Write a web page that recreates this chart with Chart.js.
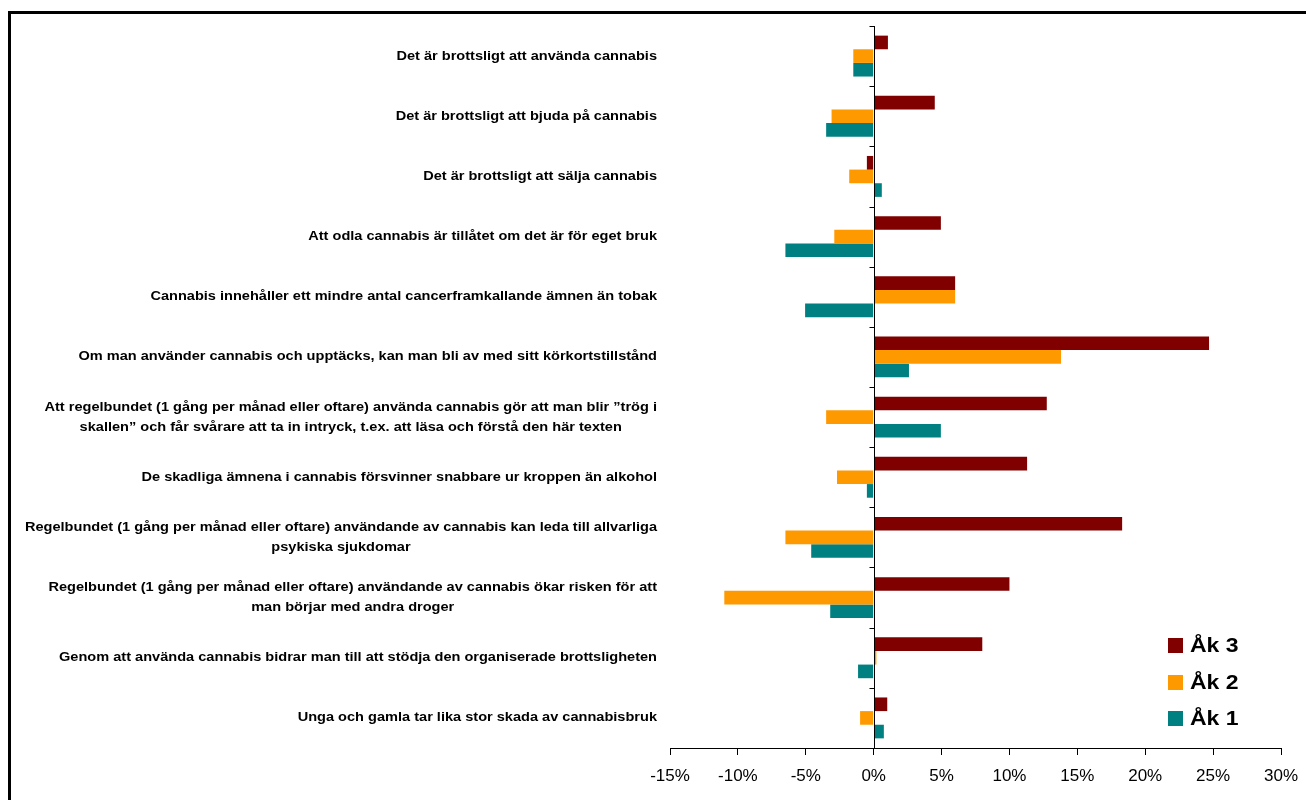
<!DOCTYPE html>
<html>
<head>
<meta charset="utf-8">
<script src="https://cdn.jsdelivr.net/npm/chart.js@4.4.1/dist/chart.umd.min.js"></script>
<style>
  html, body { margin: 0; padding: 0; background: #fff; overflow: hidden; }
  body { width: 1306px; height: 800px; position: relative; font-family: "Liberation Sans", Arial, sans-serif; }
  #frame { position: absolute; left: 8px; top: 11px; width: 1400px; height: 900px; border: 3px solid #000; box-sizing: border-box; }
  #wrap { position: absolute; left: 0; top: 0; width: 1306px; height: 800px; }
  #legend { position: absolute; left: 1168px; top: 627px; }
  .item { height: 36.7px; display: flex; align-items: center; font-weight: bold; font-size: 20px; color: #000; }
  .box { width: 15px; height: 15px; margin-right: 7px; }
  .txt { display: inline-block; transform: scaleX(1.15); transform-origin: left center; }
</style>
</head>
<body>
<div id="frame"></div>
<div id="wrap"><canvas id="chart" width="1306" height="800"></canvas></div>
<div id="legend"></div>
<script>
// categories, top to bottom
const categories = [
  ['Det är brottsligt att använda cannabis'],
  ['Det är brottsligt att bjuda på cannabis'],
  ['Det är brottsligt att sälja cannabis'],
  ['Att odla cannabis är tillåtet om det är för eget bruk'],
  ['Cannabis innehåller ett mindre antal cancerframkallande ämnen än tobak'],
  ['Om man använder cannabis och upptäcks, kan man bli av med sitt körkortstillstånd'],
  ['Att regelbundet (1 gång per månad eller oftare) använda cannabis gör att man blir ”trög i', 'skallen” och får svårare att ta in intryck, t.ex. att läsa och förstå den här texten'],
  ['De skadliga ämnena i cannabis försvinner snabbare ur kroppen än alkohol'],
  ['Regelbundet (1 gång per månad eller oftare) användande av cannabis kan leda till allvarliga', 'psykiska sjukdomar'],
  ['Regelbundet (1 gång per månad eller oftare) användande av cannabis ökar risken för att', 'man börjar med andra droger'],
  ['Genom att använda cannabis bidrar man till att stödja den organiserade brottsligheten'],
  ['Unga och gamla tar lika stor skada av cannabisbruk']
];

// change in percent
const ak3 = [1.05, 4.5, -0.5, 4.95, 6.0, 24.7, 12.75, 11.3, 18.3, 10.0, 8.0, 1.0];
const ak2 = [-1.5, -3.1, -1.8, -2.9, 6.0, 13.8, -3.5, -2.7, -6.5, -11.0, 0.2, -1.0];
const ak1 = [-1.5, -3.5, 0.6, -6.5, -5.05, 2.6, 4.95, -0.5, -4.6, -3.2, -1.15, 0.75];

const seriesNames = ['Åk 3', 'Åk 2', 'Åk 1'];
const seriesColors = ['#800000', '#FF9900', '#008080'];
const xTicksMin = -15, xTicksMax = 30, xStep = 5;

const FONT = '"Liberation Sans", Arial, sans-serif';

// category labels: block right aligned, lines centred inside block (like Excel)
// the original text is a bit stretched sideways, hence the scale
const catLabels = {
  id: 'catLabels',
  afterDraw(chart) {
    const ctx = chart.ctx, y = chart.scales.y, area = chart.chartArea;
    const sx = 1.165, lh = 20;
    ctx.save();
    ctx.font = 'bold 12.5px ' + FONT;
    ctx.fillStyle = '#000';
    ctx.textAlign = 'center';
    ctx.textBaseline = 'middle';
    categories.forEach((lines, i) => {
      const cy = y.getPixelForValue(i);
      const w = Math.max(...lines.map(l => ctx.measureText(l).width)) * sx;
      const cx = area.left - 13 - w / 2;
      lines.forEach((l, k) => {
        ctx.save();
        ctx.translate(cx, cy + (k - (lines.length - 1) / 2) * lh);
        ctx.scale(sx, 1);
        ctx.fillText(l, 0, 0);
        ctx.restore();
      });
    });
    ctx.restore();
  }
};

// zero line with small category tick marks
const zeroTicks = {
  id: 'zeroTicks',
  afterDatasetsDraw(chart) {
    const ctx = chart.ctx, x = chart.scales.x, y = chart.scales.y;
    const x0 = Math.round(x.getPixelForValue(0)) + 0.5;
    const step = y.getPixelForValue(1) - y.getPixelForValue(0);
    ctx.save();
    ctx.strokeStyle = '#000';
    ctx.lineWidth = 1;
    ctx.beginPath();
    ctx.moveTo(x0, chart.chartArea.top);
    ctx.lineTo(x0, chart.chartArea.bottom);
    for (let i = 0; i <= categories.length; i++) {
      const yy = Math.round(y.getPixelForValue(i) - step / 2) + 0.5;
      ctx.moveTo(x0 - 5, yy);
      ctx.lineTo(x0, yy);
    }
    ctx.stroke();
    ctx.restore();
  }
};

const chart = new Chart(document.getElementById('chart'), {
  type: 'bar',
  data: {
    labels: categories,
    datasets: [
      { label: seriesNames[0], data: ak3, backgroundColor: seriesColors[0] },
      { label: seriesNames[1], data: ak2, backgroundColor: seriesColors[1] },
      { label: seriesNames[2], data: ak1, backgroundColor: seriesColors[2] }
    ]
  },
  options: {
    indexAxis: 'y',
    responsive: false,
    animation: false,
    categoryPercentage: 0.68,
    barPercentage: 1.0,
    layout: { padding: { left: 0, right: 25, top: 26, bottom: 0 } },
    plugins: {
      legend: { display: false },
      tooltip: { enabled: false }
    },
    scales: {
      x: {
        min: xTicksMin,
        max: xTicksMax,
        afterFit: s => { s.height = 52; s.paddingRight = 0; s.paddingLeft = 0; },
        ticks: {
          stepSize: xStep,
          color: '#000',
          padding: 11,
          font: { family: FONT, size: 17 },
          callback: v => v + '%'
        },
        grid: {
          color: 'transparent',
          tickColor: '#000',
          tickLength: 7,
          drawOnChartArea: true
        },
        border: { display: true, color: '#000', width: 1 }
      },
      y: {
        afterFit: s => { s.width = 670; },
        ticks: { display: false },
        grid: { display: false },
        border: { display: false }
      }
    }
  },
  plugins: [catLabels, zeroTicks]
});

// legend built from the dataset names/colours
const legend = document.getElementById('legend');
chart.data.datasets.forEach(ds => {
  const row = document.createElement('div');
  row.className = 'item';
  const b = document.createElement('span');
  b.className = 'box';
  b.style.background = ds.backgroundColor;
  const t = document.createElement('span');
  t.className = 'txt';
  t.textContent = ds.label;
  row.appendChild(b);
  row.appendChild(t);
  legend.appendChild(row);
});
</script>
</body>
</html>
